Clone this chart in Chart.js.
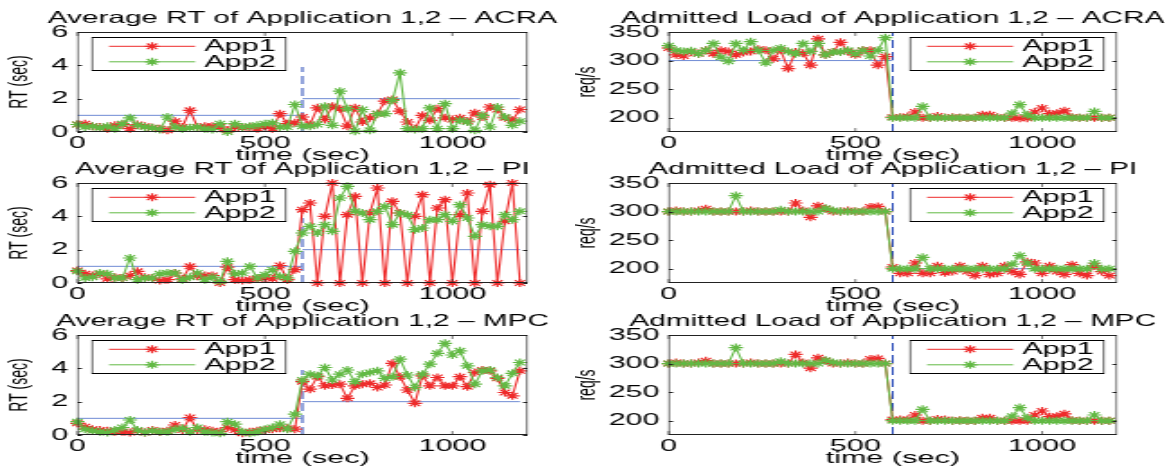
<!DOCTYPE html>
<html>
<head>
<meta charset="utf-8">
<title>Average RT and admitted load</title>
<script src="https://cdn.jsdelivr.net/npm/chart.js@4.4.1/dist/chart.umd.min.js"></script>
<style>
  html, body { margin: 0; padding: 0; background: #fff; }
  body { width: 1165px; height: 466px; overflow: hidden; position: relative; }
  .panel { position: absolute; height: 164px; transform-origin: 0 0; transform: scaleX(1.8); }
</style>
</head>
<body>
<script>
// sample times (sec)
const times = [0,20,40,60,80,100,120,140,160,180,200,220,240,260,280,300,320,340,360,380,
  400,420,440,460,480,500,520,540,560,580,600,620,640,660,680,700,720,740,760,780,
  800,820,840,860,880,900,920,940,960,980,1000,1020,1040,1060,1080,1100,1120,1140,1160,1180];

// response time (sec)
const acraRt1 = [0.45,0.5,0.35,0.3,0.2,0.4,0.45,0.2,0.45,0.35,0.25,0.2,0.1,0.65,0.3,1.3,0.3,0.35,0.35,0.3,
  0.1,0.3,0.25,0.3,0.2,0.35,0.2,1.1,0.5,0.55,
  0.9,0.45,1.45,0.75,1.55,1.4,0.35,1.45,0.6,0.85,1.1,1.85,1.95,1.25,0.6,0.2,1.0,0.7,1.4,0.85,
  0.75,0.85,0.65,1.15,0.9,1.5,1.35,0.85,0.7,1.35];
const acraRt2 = [0.45,0.3,0.35,0.25,0.35,0.2,0.5,0.85,0.4,0.3,0.25,0.15,0.9,0.3,0.2,0.25,0.3,0.2,0.15,0.5,
  0.0,0.5,0.3,0.35,0.4,0.5,0.55,0.3,0.3,1.65,
  0.35,0.35,0.45,1.55,0.4,2.45,1.4,0.05,1.35,0.1,1.1,1.1,1.9,3.55,0.2,0.15,0.2,1.45,0.2,1.7,
  0.2,0.7,0.6,0.1,1.0,0.3,1.5,0.9,0.4,0.65];
const piRt1 = [0.75,0.55,0.45,0.55,0.25,0.35,0.3,0.45,0.7,0.35,0.3,0.15,0.2,0.6,0.25,1.0,0.4,0.45,0.45,0.0,
  0.95,0.2,0.15,0.2,0.25,0.3,0.25,1.05,0.2,0.8,
  4.4,4.8,0,4.0,6.0,0,4.1,5.2,0,4.2,5.7,0,4.9,4.2,0,4.0,5.3,0,4.5,5.0,
  0,4.1,5.4,0,4.3,5.9,0,3.7,6.0,0];
const piRt2 = [0.7,0.3,0.35,0.6,0.55,0.3,0.3,1.5,0.2,0.3,0.3,0.55,0.6,0.6,0.2,0.35,0.6,0.2,0.35,0.1,
  1.3,0.55,0.6,1.0,0.3,0.5,0.8,0.4,0.3,1.9,
  3.0,3.4,3.0,3.5,3.1,5.1,5.8,4.3,4.2,3.8,4.3,4.6,3.5,4.2,4.1,3.2,3.3,3.8,3.8,4.1,
  3.7,4.7,3.9,2.8,3.5,3.4,3.4,4.1,3.8,4.3];
const mpcRt1 = [0.7,0.5,0.35,0.3,0.25,0.2,0.2,0.15,0.25,0.15,0.3,0.2,0.25,0.6,0.3,1.05,0.3,0.35,0.25,0.2,
  0.45,0.3,0.1,0.2,0.25,0.3,0.35,0.4,0.4,0.35,
  3.2,2.75,3.5,2.95,3.0,3.05,2.2,2.95,3.05,3.1,2.85,3.0,4.3,3.5,2.7,1.9,3.55,2.95,3.45,2.95,
  2.95,3.5,2.9,3.75,3.9,3.85,3.4,2.55,2.35,3.85];
const mpcRt2 = [0.8,0.35,0.25,0.2,0.15,0.3,0.45,0.9,0.3,0.15,0.25,0.2,0.2,0.35,0.4,0.2,0.45,0.2,0.15,0.1,
  0.8,0.65,0.2,0.1,0.2,0.35,0.45,0.65,0.35,1.25,
  3.3,3.65,3.55,4.05,3.3,3.65,3.9,3.2,3.65,3.75,3.85,3.4,3.5,4.55,3.6,2.85,3.65,4.25,4.9,5.5,
  4.8,5.05,4.15,3.05,3.85,3.9,3.45,2.95,3.7,4.35];

// admitted load (req/s)
const acraLoad1 = [322,310,308,315,312,318,312,318,316,310,314,316,320,318,303,318,286,315,313,292,
  338,310,315,332,316,310,318,318,292,307,
  201,201,202,210,200,200,203,200,201,200,200,200,205,205,201,200,200,199,199,210,
  217,207,208,212,201,200,200,200,200,200];
const acraLoad2 = [326,318,316,317,312,318,330,306,299,330,318,333,318,296,318,322,316,312,330,316,
  330,310,315,315,318,312,318,308,318,340,
  200,200,200,200,220,200,200,200,200,200,200,200,200,200,200,200,208,223,205,200,
  200,200,200,200,200,200,200,211,200,200];
const piLoad1 = [300,302,300,300,302,305,300,300,300,300,300,302,300,300,300,300,300,315,302,290,
  310,305,300,300,302,300,300,308,309,300,
  203,192,192,210,192,192,205,193,195,205,195,188,205,190,192,205,195,190,212,210,
  192,205,195,190,207,192,188,205,195,188];
const piLoad2 = [300,300,300,300,300,300,300,300,300,328,300,300,300,300,300,303,300,300,300,300,
  300,306,302,300,300,300,300,300,300,300,
  200,200,200,200,220,200,200,200,200,200,200,200,200,200,200,200,208,223,210,200,
  200,200,200,200,200,200,200,210,200,200];
const mpcLoad1 = [300,302,300,300,302,305,300,300,300,300,300,302,300,300,300,300,300,316,302,292,
  310,305,300,300,302,300,300,308,309,300,
  202,202,202,210,200,200,203,202,200,201,200,200,205,205,200,200,200,200,200,210,
  217,207,208,212,201,200,200,200,200,200];
const mpcLoad2 = [300,300,300,300,300,300,300,300,300,328,300,300,300,300,300,304,300,300,300,300,
  300,306,302,300,300,300,300,300,300,300,
  200,200,200,200,220,200,200,200,200,200,200,200,200,200,200,200,208,223,205,200,
  200,200,200,200,200,200,200,210,200,200];

// axes and reference lines
const timeTicks = [0, 500, 1000];
const rtTicks = [0, 2, 4, 6];
const loadTicks = [200, 250, 300, 350];
const rtTarget = [1, 2];
const loadTarget = [300, 200];
const rtSwitchSpan = [0, 3.9];
const loadSwitchSpan = [175, 350];
const switchTime = 600;
const targetEnd = 1180;
const seriesNames = ['App1', 'App2'];

const RED = '#ee2b2b';
const GREEN = '#62b944';
const ROW_TOP = [0, 151, 303];
const FONT = '"Liberation Sans", Arial, sans-serif';

Chart.defaults.font.family = FONT;
Chart.defaults.color = '#000';

const panels = [
  { title: 'Average RT of Application 1,2 \u2013 ACRA', kind: 'rt', row: 0, col: 0, s1: acraRt1, s2: acraRt2 },
  { title: 'Admitted Load of Application 1,2 \u2013 ACRA', kind: 'load', row: 0, col: 1, s1: acraLoad1, s2: acraLoad2 },
  { title: 'Average RT of Application 1,2 \u2013 PI', kind: 'rt', row: 1, col: 0, s1: piRt1, s2: piRt2 },
  { title: 'Admitted Load of Application 1,2 \u2013 PI', kind: 'load', row: 1, col: 1, s1: piLoad1, s2: piLoad2 },
  { title: 'Average RT of Application 1,2 \u2013 MPC', kind: 'rt', row: 2, col: 0, s1: mpcRt1, s2: mpcRt2 },
  { title: 'Admitted Load of Application 1,2 \u2013 MPC', kind: 'load', row: 2, col: 1, s1: mpcLoad1, s2: mpcLoad2 },
];

// axes box with inward ticks, matlab style
const framePlugin = {
  id: 'frame',
  afterDatasetsDraw(chart) {
    const { ctx, chartArea: a, scales } = chart;
    ctx.save();
    ctx.strokeStyle = '#222';
    ctx.lineWidth = 1;
    ctx.beginPath();
    ctx.moveTo(a.left, a.top + 0.5); ctx.lineTo(a.right, a.top + 0.5);
    ctx.moveTo(a.left, a.bottom - 0.5); ctx.lineTo(a.right, a.bottom - 0.5);
    scales.y.ticks.forEach(t => {
      const y = Math.round(scales.y.getPixelForValue(t.value)) + 0.5;
      ctx.moveTo(a.left, y); ctx.lineTo(a.left + 2.5, y);
      ctx.moveTo(a.right, y); ctx.lineTo(a.right - 2.5, y);
    });
    ctx.stroke();
    // vertical strokes get widened by the stretch
    ctx.lineWidth = 0.6;
    ctx.beginPath();
    ctx.moveTo(a.left + 0.3, a.top); ctx.lineTo(a.left + 0.3, a.bottom);
    ctx.moveTo(a.right - 0.3, a.top); ctx.lineTo(a.right - 0.3, a.bottom);
    scales.x.ticks.forEach(t => {
      const x = scales.x.getPixelForValue(t.value);
      ctx.moveTo(x, a.bottom); ctx.lineTo(x, a.bottom - 4);
      ctx.moveTo(x, a.top); ctx.lineTo(x, a.top + 4);
    });
    ctx.stroke();
    ctx.restore();
  }
};

// boxed legend with line + star sample
const keyPlugin = {
  id: 'key',
  afterDatasetsDraw(chart, args, opts) {
    const { ctx, chartArea: a } = chart;
    const w = 108, h = 34;
    const left = opts.side === 'right' ? a.right - 7 - w : a.left + 8;
    const top = a.top + 5;
    ctx.save();
    ctx.fillStyle = '#fff';
    ctx.fillRect(left, top, w, h);
    ctx.strokeStyle = '#000';
    ctx.lineWidth = 1;
    ctx.beginPath();
    ctx.moveTo(left, top + 0.5); ctx.lineTo(left + w, top + 0.5);
    ctx.moveTo(left, top + h - 0.5); ctx.lineTo(left + w, top + h - 0.5);
    ctx.stroke();
    ctx.lineWidth = 0.6;
    ctx.beginPath();
    ctx.moveTo(left + 0.3, top); ctx.lineTo(left + 0.3, top + h);
    ctx.moveTo(left + w - 0.3, top); ctx.lineTo(left + w - 0.3, top + h);
    ctx.stroke();
    chart.data.datasets.filter(d => d.label).forEach((d, i) => {
      const y = top + 9.3 + i * 15.5;
      ctx.strokeStyle = d.borderColor;
      ctx.lineWidth = 1;
      ctx.beginPath();
      ctx.moveTo(left + 9.6, y); ctx.lineTo(left + 57.4, y);
      ctx.stroke();
      ctx.lineWidth = 1.2;
      Chart.helpers.drawPoint(ctx, { pointStyle: 'star', radius: 4, borderWidth: 1.2, rotation: 0 }, left + 33.5, y);
      ctx.fillStyle = '#000';
      ctx.font = '17px ' + FONT;
      ctx.textBaseline = 'middle';
      ctx.fillText(d.label, left + 62.4, y + 0.5);
    });
    ctx.restore();
  }
};

function points(values) {
  return times.map((t, i) => ({ x: t, y: values[i] }));
}

function buildPanel(p) {
  const isRt = p.kind === 'rt';
  const onLeft = p.col === 0;
  const axisW = onLeft ? 43 : 52;
  const areaW = onLeft ? 250 : 249;
  const target = isRt ? rtTarget : loadTarget;
  const span = isRt ? rtSwitchSpan : loadSwitchSpan;
  const yTicks = isRt ? rtTicks : loadTicks;

  const box = document.createElement('div');
  box.className = 'panel';
  box.style.left = (onLeft ? 0 : 575) + 'px';
  box.style.top = ROW_TOP[p.row] + 'px';
  box.style.width = (axisW * 2 + areaW) + 'px';
  const canvas = document.createElement('canvas');
  box.appendChild(canvas);
  document.body.appendChild(box);

  const series = (label, values, color, order) => ({
    label, data: points(values), borderColor: color, backgroundColor: color,
    borderWidth: 1.1, pointStyle: 'star', pointRadius: 4, pointBorderWidth: 1.2,
    pointBorderColor: color, clip: false, order
  });
  const ref = (data, color, dash, width) => ({
    data, borderColor: color, borderWidth: width, borderDash: dash,
    pointRadius: 0, order: 2
  });

  new Chart(canvas, {
    type: 'line',
    data: {
      datasets: [
        series(seriesNames[0], p.s1, RED, 1),
        series(seriesNames[1], p.s2, GREEN, 0),
        ref([{ x: 0, y: target[0] }, { x: switchTime, y: target[0] }], '#6f8bd4', [], 1),
        ref([{ x: switchTime, y: target[1] }, { x: targetEnd, y: target[1] }], '#6f8bd4', [], 1),
        ref([{ x: switchTime, y: span[0] }, { x: switchTime, y: span[1] }], '#2a4cb8', [8, 4], 1),
      ]
    },
    options: {
      responsive: true,
      maintainAspectRatio: false,
      animation: false,
      events: [],
      layout: { padding: 0 },
      plugins: {
        legend: { display: false },
        tooltip: { enabled: false },
        title: {
          display: true, text: p.title, color: '#000',
          font: { size: 16.5, weight: 'normal', lineHeight: '20px' },
          padding: { top: 8, bottom: 4 }
        },
        key: { side: onLeft ? 'left' : 'right' }
      },
      scales: {
        x: {
          type: 'linear', min: 0, max: 1200,
          afterBuildTicks: s => { s.ticks = timeTicks.map(v => ({ value: v })); },
          afterFit: s => { s.height = 32; },
          grid: { display: false, drawTicks: false },
          border: { display: false },
          ticks: { font: { size: 17 }, padding: 1, maxRotation: 0, callback: v => String(v) },
          title: { display: true, text: 'time (sec)', font: { size: 17, lineHeight: 1 }, padding: { top: 0, bottom: 0 } }
        },
        y: {
          min: isRt ? 0 : 175, max: isRt ? 6 : 350,
          afterBuildTicks: s => { s.ticks = yTicks.map(v => ({ value: v })); },
          afterFit: s => { s.width = axisW; },
          grid: { display: false, drawTicks: false },
          border: { display: false },
          ticks: { font: { size: 17 }, padding: 5, callback: v => String(v) },
          title: { display: true, text: isRt ? 'RT (sec)' : 'req/s', font: { size: 14, lineHeight: 1 }, padding: { top: onLeft ? 4 : 0, bottom: 0 } }
        },
        yPad: {
          position: 'right',
          afterFit: s => { s.width = axisW; },
          grid: { display: false, drawTicks: false },
          border: { display: false },
          ticks: { display: false }
        }
      }
    },
    plugins: [framePlugin, keyPlugin]
  });
}

panels.forEach(buildPanel);
</script>
</body>
</html>
